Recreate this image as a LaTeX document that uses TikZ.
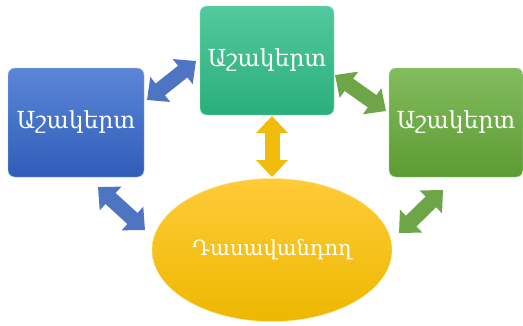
\documentclass[tikz,border=0pt]{standalone}
\usepackage{fontspec}
\newfontfamily\armfont{DejaVu Serif}
\usetikzlibrary{arrows.meta,shapes.geometric}

\definecolor{bluetop}{HTML}{5B86D8}
\definecolor{bluebot}{HTML}{2F5DB8}
\definecolor{tealtop}{HTML}{52C99E}
\definecolor{tealbot}{HTML}{2BAE7C}
\definecolor{greentop}{HTML}{82BC5E}
\definecolor{greenbot}{HTML}{5D9B33}
\definecolor{goldtop}{HTML}{FFCB38}
\definecolor{goldbot}{HTML}{EDB800}

\begin{document}
\begin{tikzpicture}[x=1pt,y=-1pt,
  box/.style={rectangle,rounded corners=7pt,minimum width=134pt,minimum height=109pt,
    text=white,font=\armfont\fontsize{23.5}{28}\selectfont},
  link/.style={line width=15pt,{Triangle[width=31pt,length=17pt]}-{Triangle[width=31pt,length=17pt]}}]
\useasboundingbox (0,0) rectangle (523,325);

\node[box,minimum width=136pt,top color=bluetop,bottom color=bluebot,draw=bluetop!60!white] (left) at (76,122.5) {Աշակերտ};
\node[box,top color=tealtop,bottom color=tealbot,draw=tealtop!60!white] (top) at (267,60.5) {Աշակերտ};
\node[box,top color=greentop,bottom color=greenbot,draw=greentop!60!white] (right) at (456,122.5) {Աշակերտ};
\node[ellipse,minimum width=240pt,minimum height=143pt,top color=goldtop,bottom color=goldbot,
  draw=goldtop!50!white,text=white,font=\armfont\fontsize{21}{25}\selectfont] (teacher) at (272,250) {Դասավանդող};

\coordinate (lt1) at (147,100);
\coordinate (lt2) at (196,61);
\coordinate (tr1) at (335,75);
\coordinate (tr2) at (386,111);
\coordinate (tt1) at (272,116);
\coordinate (tt2) at (272,177);
\coordinate (ll1) at (98,187);
\coordinate (ll2) at (145,230);
\coordinate (rr1) at (399,233);
\coordinate (rr2) at (443,190);

\draw[link,color=bluebot!85!white] (lt1) -- (lt2);
\draw[link,color=greenbot!90!white] (tr1) -- (tr2);
\draw[link,color=goldbot!80!goldtop] (tt1) -- (tt2);
\draw[link,color=bluebot!85!white] (ll1) -- (ll2);
\draw[link,color=greenbot!90!white] (rr1) -- (rr2);
\end{tikzpicture}
\end{document}
